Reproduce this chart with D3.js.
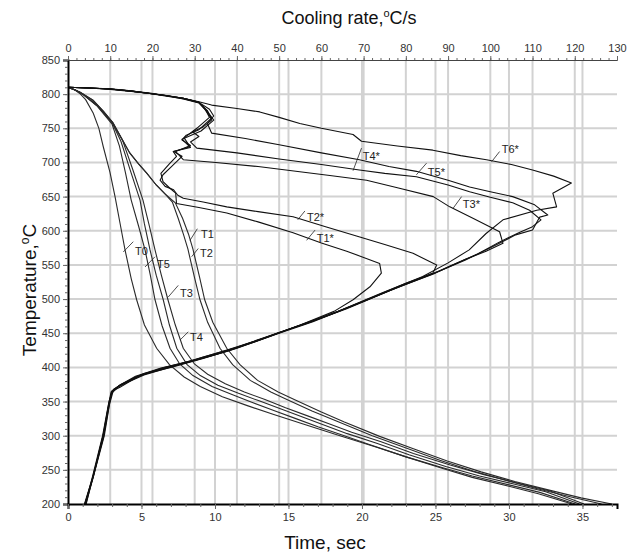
<!DOCTYPE html>
<html>
<head>
<meta charset="utf-8">
<script src="https://cdn.jsdelivr.net/npm/d3@7"></script>
<style>
  body { margin: 0; background: #fff; }
  #chart { width: 640px; height: 553px; }
</style>
</head>
<body>
<div id="chart"></div>
<script>
// ---- tick values ----
const tempTicks = [200, 250, 300, 350, 400, 450, 500, 550, 600, 650, 700, 750, 800, 850];
const timeTicks = [0, 5, 10, 15, 20, 25, 30, 35];
const rateTicks = [0, 10, 20, 30, 40, 50, 60, 70, 80, 90, 100, 110, 120, 130];

// ---- temperature vs time, [sec, degC] ----
const timeT0 = [[0,810],[0.4,807],[0.8,801],[1.2,792],[1.72,772],[2.1,750],[2.4,723],[2.86,685],[3.2,650],[3.54,611],[3.88,572],[4.3,530],[4.67,499],[5.2,462],[6.03,428],[6.9,404],[7.9,386],[9,372],[10.5,357],[12.2,344],[14,331],[16,317],[18.5,300],[21,283],[23,269],[25.5,252],[27.5,239],[30,226],[32,215],[34.3,200]];
const timeT5 = [[0,810],[0.5,806],[1,800],[2,782],[3,756],[3.5,724],[3.9,686],[4.3,645],[4.8,607],[5.24,572],[5.6,535],[5.92,499],[6.4,461],[6.94,428],[7.6,405],[8.5,388],[9.8,372],[11.2,360],[12.5,349],[14,337],[15.5,325],[17,313],[18.5,302],[20.5,287],[23,269],[25.5,253],[27.5,241],[30,228],[32.1,217],[34.5,200]];
const timeT3 = [[0,810],[0.5,806],[1,800],[2,783],[3,758],[3.6,731],[4.2,691],[4.9,645],[5.2,610],[5.58,572],[6.0,535],[6.48,499],[6.9,462],[7.4,428],[8.1,404],[9,388],[10.2,374],[11.6,362],[13,351],[14.5,339],[16,327],[17.5,315],[19,303],[21,289],[23.2,272],[25.7,255],[28,241],[30.4,229],[32.5,218],[34.8,200]];
const timeT4 = [[0,810],[0.5,806],[1,800],[2,783],[3,759],[3.7,733],[4.4,690],[5.1,645],[5.5,610],[5.92,572],[6.35,535],[6.8,499],[7.3,462],[7.84,428],[8.6,405],[9.5,390],[10.7,376],[12,364],[13.4,353],[14.8,341],[16.3,329],[17.8,317],[19.3,305],[21.3,291],[23.5,274],[26,257],[28.3,243],[30.7,230],[32.8,219],[35.1,200]];
const timeT1 = [[0,810],[0.8,803],[1.7,791],[2.4,775],[3.06,758],[3.6,737],[4.2,714],[4.8,698],[5.37,684],[6.0,667],[6.6,654],[7.1,642],[7.5,618],[7.85,595],[8.16,573],[8.6,532],[8.98,499],[9.5,466],[10.34,428],[11.2,404],[12.4,381],[13.8,364],[15,352],[16.6,336],[18.3,321],[20.7,300],[23,282],[25.3,264],[27.6,248],[29.9,234],[32,222],[34.3,210],[36.3,200]];
const timeT2 = [[0,810],[0.8,803],[1.7,791],[2.4,775],[3.06,758],[3.6,737],[4.2,714],[4.8,698],[5.37,684],[6.0,667],[6.6,654],[7.3,641],[7.8,618],[8.2,595],[8.5,573],[8.95,532],[9.3,499],[9.85,466],[10.8,428],[11.7,404],[12.9,381],[14.3,364],[15.5,352],[17.2,335],[18.8,320],[21.2,299],[23.5,281],[25.8,263],[28.1,247],[30.4,233],[32.6,221],[34.9,209],[37,200]];

// ---- cooling rate vs temperature, [degC/s, degC] ----
const rateT1 = [[0,810],[5,809],[10,807],[15,804],[19.4,801],[23,798],[27.3,793],[31,787],[33,775],[34.5,762],[31.5,746],[27,734],[29,722],[24.9,716],[25.7,709],[24,698],[22,684],[22.5,672],[24,663],[25.5,655],[25.7,640],[31,634],[37.6,626],[45,613],[53.3,597],[60,582],[66,570],[70,561],[73.8,552],[74.2,538],[71.5,518],[67.5,499],[63,482],[55,462],[48,446],[38,424],[30,410],[24,400],[18,389],[12.5,374],[10.5,366],[9.7,350],[8.2,300],[7,270],[5.8,240],[4.1,200]];
const rateT2 = [[0,810],[5,809],[10,807.5],[15,804.5],[19.4,801],[23,797.5],[27.3,793.5],[31,788],[32.5,778],[33.5,766],[30.5,750],[27.5,736],[28.9,723],[25,716],[27,709],[24.5,694],[22.5,682],[21.8,674],[23,665],[25,660],[26,652],[27.3,647.5],[32,642],[37.6,635],[45,628],[53.3,620.6],[61,606],[69.1,591],[75,580],[81.7,567],[87.3,550],[86.4,538],[80,522],[72,502],[66,487],[58,468],[50,451],[42,434],[35,419],[28,407],[22,398],[16,386],[12,372],[10.3,362],[9.5,340],[8.5,305],[7.2,272],[6,242],[4.3,200]];
const rateT3 = [[0,810],[5,809],[10,807.5],[15,804.5],[19.4,801.5],[23,798],[27.3,794],[31,788],[32.5,777],[34,765],[31,748],[28,740],[27,733],[29,725],[25.5,716],[27.3,704],[35,700],[45,694],[54.9,686.5],[62,681],[70.7,674],[78,663],[86.5,650],[90.4,635],[96,618],[102.2,598.6],[103,581.6],[99,570],[94,558],[87,538],[78,517],[67,489],[58,467],[50,450],[40,428],[32,413],[25,401],[18,390],[13,376],[10.8,368],[9.8,345],[8.6,300],[7.3,270],[5.9,238],[4,200]];
const rateT4 = [[0,810],[5,809],[10,807.5],[15,804.5],[19.4,801],[23,798],[27.3,794],[31,788],[33,776],[34,762],[32,752],[29.5,745],[31,738],[29,730],[30.5,721],[40,714],[50,705],[60,697],[69,689],[75,684],[82.5,679],[90,667],[95.1,657],[100,649],[105.3,641],[109.3,630],[112,616],[110,606],[107,598],[102,583],[97,566],[91,550],[86,536],[76,512],[66,486],[56,463],[50,451],[40,429],[32,415],[25,402],[18,391],[12.5,375],[10.5,366],[9.9,350],[8.4,298],[7,265],[6.1,242],[4.2,200]];
const rateT5 = [[0,810],[5,809],[10,807.5],[15,804.5],[19.4,801],[23,798],[27.3,794],[31,788],[33.5,778],[34.5,768],[33,757],[34,743],[42,735],[50,726],[60,714],[69,704],[76,694],[82.5,687],[90,674],[95.1,664],[100,657],[105.3,650],[110.5,638],[113.6,623],[111.7,620],[110,601],[106,594],[100,575],[94,557],[88,541],[80,523],[70,497],[62,477],[52,455],[44,437],[36,421],[29,409],[22,399],[16,387],[12,373],[10.2,364],[9.6,345],[8.3,300],[6.8,262],[5.9,240],[3.9,200]];
const rateT6 = [[0,810],[5,809],[10,808],[15,805],[19.4,801],[23,798.5],[27.3,794],[31,789],[34,784],[40,779],[45.4,774],[50,766],[54.9,757],[60,750],[67.5,741],[69.5,731],[78,724],[86.4,718],[93,710],[99.1,704],[105,697],[110,689],[115,680],[119.2,670],[114.8,655],[115.7,635],[111,630],[103,616],[99,596],[95,572],[90,553],[84,533],[74,508],[64,482],[54,460],[46,442],[38,426],[30,411],[23,400],[17,388],[12.3,371],[10.4,365],[9.7,346],[8.3,298],[7.1,268],[5.9,239],[4.0,200]];

// ---- curve labels: leader from -> to, text at ----
const timeLabels = [
  { name: "T0", from: [3.76, 569], to: [4.44, 584], at: [4.56, 564] },
  { name: "T5", from: [5.24, 547], to: [5.92, 562], at: [6.05, 545] },
  { name: "T3", from: [6.82, 503], to: [7.5, 520], at: [7.62, 503] },
  { name: "T4", from: [7.62, 440], to: [8.18, 452], at: [8.3, 438] },
  { name: "T1", from: [8.3, 586], to: [8.8, 603], at: [9.05, 589] },
  { name: "T2", from: [8.41, 562], to: [8.86, 574], at: [8.98, 561] }
];
const rateLabels = [
  { name: "T2*", from: [54.4, 616], to: [56.1, 629], at: [56.6, 614] },
  { name: "T1*", from: [56.5, 586], to: [58.5, 601], at: [58.9, 583] },
  { name: "T4*", from: [67.5, 688], to: [69.5, 721], at: [69.8, 704] },
  { name: "T5*", from: [82.5, 682], to: [84.9, 699], at: [85.2, 680] },
  { name: "T3*", from: [91.2, 633], to: [93.2, 650], at: [93.5, 633] },
  { name: "T6*", from: [100.3, 701], to: [102.2, 716], at: [102.7, 714] }
];

const timeCurves = [timeT0, timeT5, timeT3, timeT4, timeT1, timeT2];
const rateCurves = [rateT1, rateT2, rateT3, rateT4, rateT5, rateT6];

const fullWidth = 640, fullHeight = 553;
const margin = { top: 60, right: 23, bottom: 49, left: 68 };
const width = fullWidth - margin.left - margin.right;
const height = fullHeight - margin.top - margin.bottom;

const svg = d3.select("#chart")
  .append("svg")
  .attr("width", fullWidth)
  .attr("height", fullHeight)
  .style("background", "#fff")
  .style("font-family", "Arial, 'Liberation Sans', sans-serif");

const chart = svg.append("g")
  .attr("transform", `translate(${margin.left},${margin.top})`);

const xTime = d3.scaleLinear().domain([0, 37.35]).range([0, width]);
const xRate = d3.scaleLinear().domain([0, 130]).range([0, width]);
const y = d3.scaleLinear().domain([200, 850]).range([height, 0]);

// === Gridlines ===
const grid = chart.append("g").attr("stroke", "#d2d2d2").attr("stroke-width", 2);
grid.selectAll("line.h")
  .data(tempTicks.filter(d => d > 200 && d < 850))
  .enter().append("line")
  .attr("x1", 0).attr("x2", width)
  .attr("y1", d => y(d)).attr("y2", d => y(d));
grid.selectAll("line.vr")
  .data(rateTicks.filter(d => d > 0 && d < 130))
  .enter().append("line")
  .attr("x1", d => xRate(d)).attr("x2", d => xRate(d))
  .attr("y1", 0).attr("y2", height);
grid.selectAll("line.vt")
  .data(timeTicks.filter(d => d > 0))
  .enter().append("line")
  .attr("x1", d => xTime(d)).attr("x2", d => xTime(d))
  .attr("y1", 0).attr("y2", height);

// === Curves ===
const lineTime = d3.line().x(d => xTime(d[0])).y(d => y(d[1]));
const lineRate = d3.line().x(d => xRate(d[0])).y(d => y(d[1]));

chart.selectAll("path.time")
  .data(timeCurves)
  .enter().append("path")
  .attr("d", lineTime)
  .attr("fill", "none")
  .attr("stroke", "#2a2a2a")
  .attr("stroke-width", 1.1);

chart.selectAll("path.rate")
  .data(rateCurves)
  .enter().append("path")
  .attr("d", lineRate)
  .attr("fill", "none")
  .attr("stroke", "#111")
  .attr("stroke-width", 1.1)
  .attr("stroke-linejoin", "round");

// === Curve labels ===
function drawLabels(list, xs) {
  list.forEach(d => {
    chart.append("line")
      .attr("x1", xs(d.from[0])).attr("y1", y(d.from[1]))
      .attr("x2", xs(d.to[0])).attr("y2", y(d.to[1]))
      .attr("stroke", "#222").attr("stroke-width", 0.8);
    chart.append("text")
      .attr("x", xs(d.at[0])).attr("y", y(d.at[1]))
      .style("font-size", "11px")
      .style("fill", "#222")
      .text(d.name);
  });
}
drawLabels(timeLabels, xTime);
drawLabels(rateLabels, xRate);

// === Axes ===
const axisLeft = chart.append("g")
  .call(d3.axisLeft(y).tickValues(tempTicks).tickSize(5).tickPadding(3));
chart.append("g")
  .call(d3.axisLeft(y).tickValues(d3.range(200, 851, 10)).tickSize(3).tickFormat(""))
  .select(".domain").remove();
axisLeft.select(".domain").attr("stroke", "#000").attr("stroke-width", 2);

const axisBottom = chart.append("g")
  .attr("transform", `translate(0,${height})`)
  .call(d3.axisBottom(xTime).tickValues(timeTicks).tickSize(5).tickPadding(4));
chart.append("g")
  .attr("transform", `translate(0,${height})`)
  .call(d3.axisBottom(xTime).tickValues(d3.range(0, 37.1, 1)).tickSize(3).tickFormat(""))
  .select(".domain").remove();
axisBottom.select(".domain").attr("stroke", "#000").attr("stroke-width", 2);

const axisTop = chart.append("g")
  .call(d3.axisTop(xRate).tickValues(rateTicks).tickSize(4).tickPadding(4));
chart.append("g")
  .call(d3.axisTop(xRate).tickValues(d3.range(0, 131, 2)).tickSize(2).tickFormat(""))
  .select(".domain").remove();
axisTop.select(".domain").attr("stroke", "#444").attr("stroke-width", 1);

chart.selectAll(".tick line").attr("stroke", "#666");
chart.selectAll(".tick text")
  .style("font-size", "11px")
  .style("fill", "#333")
  .style("font-family", "Arial, 'Liberation Sans', sans-serif");

// === Axis titles ===
const title = svg.append("text")
  .attr("x", 349).attr("y", 24)
  .attr("text-anchor", "middle")
  .style("font-size", "18px")
  .style("fill", "#111");
title.append("tspan").text("Cooling rate,");
title.append("tspan").attr("dy", -7).style("font-size", "11px").text("o");
title.append("tspan").attr("dy", 7).text("C/s");

svg.append("text")
  .attr("x", 325).attr("y", 549)
  .attr("text-anchor", "middle")
  .style("font-size", "19px")
  .style("fill", "#111")
  .text("Time, sec");

const yTitle = svg.append("text")
  .attr("transform", `translate(36, 290) rotate(-90)`)
  .attr("text-anchor", "middle")
  .style("font-size", "19px")
  .style("fill", "#111");
yTitle.append("tspan").text("Temperature,");
yTitle.append("tspan").attr("dy", -7).style("font-size", "12px").text("o");
yTitle.append("tspan").attr("dy", 7).text("C");
</script>
</body>
</html>
